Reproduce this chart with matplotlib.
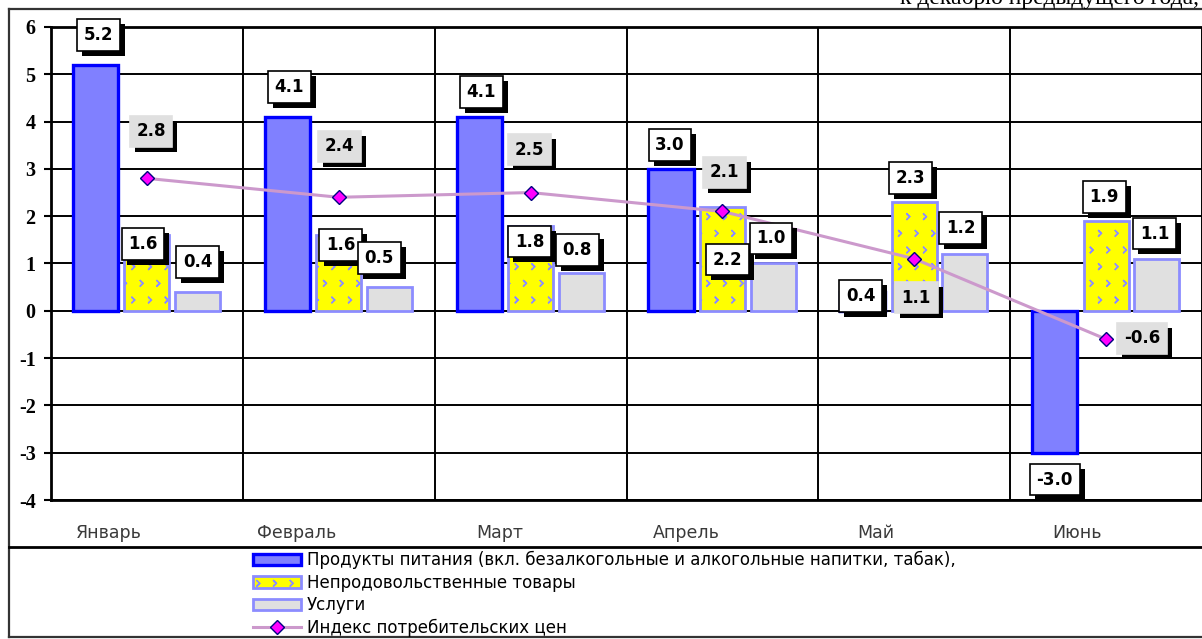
import numpy as np
import matplotlib
matplotlib.use("Agg")
import matplotlib.pyplot as plt
import matplotlib.hatch as mhatch
import matplotlib.patheffects as pe
from matplotlib.path import Path
from matplotlib.lines import Line2D
from matplotlib.patches import Patch

# ---------------- data ----------------
months = ["Январь", "Февраль", "Март", "Апрель", "Май", "Июнь"]
food = [5.2, 4.1, 4.1, 3.0, 0.4, -3.0]
nonfood = [1.6, 1.6, 1.8, 2.2, 2.3, 1.9]
services = [0.4, 0.5, 0.8, 1.0, 1.2, 1.1]
cpi = [2.8, 2.4, 2.5, 2.1, 1.1, -0.6]
series_names = [
    "Продукты питания (вкл. безалкогольные и алкогольные напитки, табак),",
    "Непродовольственные товары",
    "Услуги",
    "Индекс потребительских цен",
]
y_ticks = list(range(-4, 7))
top_note = "к декабрю предыдущего года,"

# ---------------- layout (pixels) ----------------
W, H = 1202, 639
cat_px = 193.3
ax_left_px, ax_top_px, ax_bot_px = 51, 27, 500

# label offsets (dx, dy) in pixels, dy positive = up
food_off = [(3, 30), (2, 30), (2, 25), (-1, 24), (-2, -4), (0, -27)]
nonfood_off = [(-4, -9), (2, -10), (-1, -16), (5, -53), (-4, 24), (-2, 24)]
serv_off = [(0, 30), (-10, 29), (-4, 23), (-2, 25), (-4, 26), (-2, 25)]
cpi_off = [(4, 47), (1, 51), (-1, 43), (2, 39), (2, -39), (36, 1)]
month_dx = [-0.2, -0.22, -0.16, -0.19, -0.2, -0.15]


# ---------------- custom chevron hatch ----------------
class ChevronHatch(mhatch.Shapes):
    size = 0.19
    filled = False

    def __init__(self, hatch, density):
        self.num_rows = hatch.count("*") * density
        self.shape_vertices = np.array([[-0.45, 0.9], [0.45, 0.0], [-0.45, -0.9]])
        self.shape_codes = np.array([Path.MOVETO, Path.LINETO, Path.LINETO],
                                    dtype=Path.code_type)
        super().__init__(hatch, density)


mhatch._hatch_types = [t for t in mhatch._hatch_types if t is not mhatch.Stars] + [ChevronHatch]

# ---------------- figure ----------------
fig = plt.figure(figsize=(W / 100, H / 100), dpi=100)
ax = fig.add_axes([ax_left_px / W, (H - ax_bot_px) / H,
                   (W - ax_left_px) / W, (ax_bot_px - ax_top_px) / H])

n = len(months)
x = np.arange(n) + 0.5
bw = 0.235
x_food = x - 0.268
x_non = x
x_serv = x + 0.264

food_c = "#8080ff"
food_e = "#0000ff"
non_c = "#ffff00"
serv_c = "#e0e0e0"
light_e = "#8c8cff"
cpi_line = "#cc99cc"

ax.bar(x_food, food, width=bw, color=food_c, edgecolor=food_e, linewidth=2.4, zorder=3)
ax.bar(x_non, nonfood, width=bw, color=non_c, edgecolor=light_e, linewidth=2.0,
       hatch="*", zorder=3)
ax.bar(x_serv, services, width=bw, color=serv_c, edgecolor=light_e, linewidth=2.0, zorder=3)
ax.plot(x, cpi, color=cpi_line, linewidth=2.2, marker="D", markersize=7,
        markerfacecolor="#ff00ff", markeredgecolor="#000080", markeredgewidth=1.0, zorder=4)

ax.set_xlim(0, (W - ax_left_px) / cat_px)
ax.set_ylim(-4, 6)
ax.set_yticks(y_ticks)
ax.set_yticklabels([str(v) for v in y_ticks], fontfamily="Liberation Serif",
                   fontweight="bold", fontsize=14.5)
ax.tick_params(axis="y", length=5, width=1.5, pad=6, color="black")
ax.set_xticks(np.arange(0, n + 1))
ax.set_xticklabels([])
ax.tick_params(axis="x", length=0)
ax.grid(True, color="black", linewidth=1.4, zorder=0)
ax.set_axisbelow(True)
for s in ["left", "top", "bottom"]:
    ax.spines[s].set_linewidth(2.0)
    ax.spines[s].set_color("black")
ax.spines["right"].set_visible(False)

# month labels
for i, m in enumerate(months):
    ax.text(i + 0.5 + month_dx[i], -4.0 - 33 / 47.3, m, ha="center", va="center",
            fontsize=12.5, color="#3a3a3a", fontfamily="DejaVu Sans")


def label(xv, yv, val, off, face, edge):
    a = ax.annotate(f"{val:.1f}", (xv, yv), xytext=off, textcoords="offset pixels",
                    ha="center", va="center", fontsize=12, fontweight="bold",
                    fontfamily="DejaVu Sans", color="black", zorder=6,
                    bbox=dict(boxstyle="square,pad=0.4", fc=face, ec=edge, lw=1.2))
    a.get_bbox_patch().set_path_effects([
        pe.SimplePatchShadow(offset=(3.6, -3.6), shadow_rgbFace="black", alpha=1.0),
        pe.Normal()])


for i in range(n):
    label(x_food[i], food[i], food[i], food_off[i], "white", "black")
    label(x_non[i], nonfood[i], nonfood[i], nonfood_off[i], "white", "black")
    label(x_serv[i], services[i], services[i], serv_off[i], "white", "black")
    label(x[i], cpi[i], cpi[i], cpi_off[i], "#e0e0e0", "#e0e0e0")

# legend
handles = [
    Patch(facecolor=food_c, edgecolor=food_e, linewidth=2.4),
    Patch(facecolor=non_c, edgecolor=light_e, linewidth=2.0, hatch="*"),
    Patch(facecolor=serv_c, edgecolor=light_e, linewidth=2.0),
    Line2D([0], [0], color=cpi_line, linewidth=2.2, marker="D", markersize=7,
           markerfacecolor="#ff00ff", markeredgecolor="#000080", markeredgewidth=1.0),
]
fig.legend(handles, series_names, loc="upper left",
           bbox_to_anchor=(253 / W, 1 - 551 / H), frameon=False,
           prop={"family": "DejaVu Sans", "size": 12},
           handlelength=2.9, handleheight=0.7, handletextpad=0.35,
           labelspacing=0.27, borderpad=0, borderaxespad=0)

# frame lines
def fline(x0, y0, x1, y1, lw=1.6, c="#333333"):
    fig.add_artist(Line2D([x0 / W, x1 / W], [1 - y0 / H, 1 - y1 / H],
                          color=c, linewidth=lw, transform=fig.transFigure))

fline(9, 9, W, 9)
fline(9, 9, 9, 637)
fline(9, 637, W, 637)
fline(9, 547, W, 547, lw=2.0, c="black")

fig.text(900 / W, 1 - 4 / H, top_note, ha="left", va="baseline",
         fontfamily="Liberation Serif", fontsize=17, color="black")

fig.savefig("out.png", dpi=100)
